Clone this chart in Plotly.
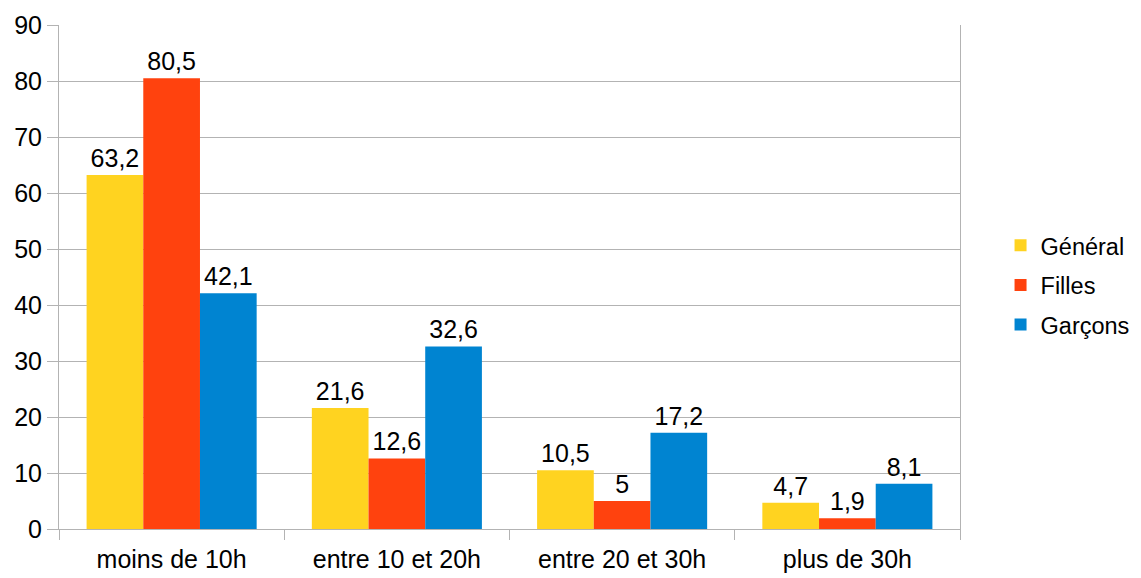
import plotly.graph_objects as go

categories = ["moins de 10h", "entre 10 et 20h", "entre 20 et 30h", "plus de 30h"]
general = [63.2, 21.6, 10.5, 4.7]
filles = [80.5, 12.6, 5, 1.9]
garcons = [42.1, 32.6, 17.2, 8.1]
series_names = ["Général", "Filles", "Garçons"]
colors = ["#FFD320", "#FF420E", "#0084D1"]
y_ticks = [0, 10, 20, 30, 40, 50, 60, 70, 80, 90]

FS = 25

def fmt(v):
    return ("%g" % v).replace(".", ",")

fig = go.Figure()
for i, (name, vals) in enumerate(zip(series_names, [general, filles, garcons])):
    fig.add_trace(go.Bar(
        x=categories, y=vals, name=name,
        marker=dict(color=colors[i], line=dict(width=0)),
        text=[fmt(v) for v in vals], textposition="outside",
        textfont=dict(size=FS, color="#000000", family="Liberation Sans"),
        cliponaxis=False, legendgroup=name,
    ))

# page body has an 8px margin, so compensate in size/margins
fig.update_layout(
    barmode="group", bargap=0.245, bargroupgap=0,
    width=1133, height=570,
    margin=dict(l=51, r=181, t=17, b=49, autoexpand=False),
    plot_bgcolor="white", paper_bgcolor="white",
    font=dict(family="Liberation Sans", size=FS, color="#000000"),
    legend=dict(x=1.045, y=0.484, xanchor="left", yanchor="middle",
                font=dict(size=23.5), traceorder="grouped", tracegroupgap=6,
                itemwidth=30),
    showlegend=True,
)
fig.update_xaxes(
    showline=True, linecolor="#b3b3b3", linewidth=1,
    ticks="outside", tickson="boundaries", ticklen=10, tickcolor="#b3b3b3",
    showgrid=False, tickfont=dict(size=FS), automargin=False,
    ticklabelstandoff=8,
)
fig.update_yaxes(
    range=[0, 90], tickvals=y_ticks, showgrid=True, gridcolor="#b3b3b3",
    showline=True, linecolor="#b3b3b3", mirror=True, linewidth=1,
    ticks="outside", ticklen=11, tickcolor="#b3b3b3", zeroline=False,
    tickfont=dict(size=FS), automargin=False,
)
fig.write_html("out.html")
